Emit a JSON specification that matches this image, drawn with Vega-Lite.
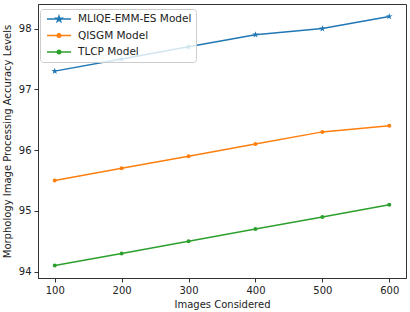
{
  "$schema": "https://vega.github.io/schema/vega-lite/v6.json",
  "width": 368,
  "height": 274,
  "autosize": {"type": "none"},
  "padding": {"left": 38, "top": 4, "right": 4, "bottom": 34},
  "config": {
    "font": "DejaVu Sans",
    "view": {"stroke": "#333", "strokeWidth": 1},
    "axis": {
      "grid": false,
      "labelFontSize": 10,
      "titleFontSize": 10,
      "labelColor": "#222",
      "titleColor": "#222",
      "domainColor": "#333",
      "tickColor": "#333",
      "titleFontWeight": "normal",
      "labelPadding": 3,
      "tickSize": 4
    }
  },
  "data": {
    "values": [
      {"images": 100, "model": "MLIQE-EMM-ES Model", "acc": 97.3},
      {"images": 200, "model": "MLIQE-EMM-ES Model", "acc": 97.5},
      {"images": 300, "model": "MLIQE-EMM-ES Model", "acc": 97.7},
      {"images": 400, "model": "MLIQE-EMM-ES Model", "acc": 97.9},
      {"images": 500, "model": "MLIQE-EMM-ES Model", "acc": 98.0},
      {"images": 600, "model": "MLIQE-EMM-ES Model", "acc": 98.2},
      {"images": 100, "model": "QISGM Model", "acc": 95.5},
      {"images": 200, "model": "QISGM Model", "acc": 95.7},
      {"images": 300, "model": "QISGM Model", "acc": 95.9},
      {"images": 400, "model": "QISGM Model", "acc": 96.1},
      {"images": 500, "model": "QISGM Model", "acc": 96.3},
      {"images": 600, "model": "QISGM Model", "acc": 96.4},
      {"images": 100, "model": "TLCP Model", "acc": 94.1},
      {"images": 200, "model": "TLCP Model", "acc": 94.3},
      {"images": 300, "model": "TLCP Model", "acc": 94.5},
      {"images": 400, "model": "TLCP Model", "acc": 94.7},
      {"images": 500, "model": "TLCP Model", "acc": 94.9},
      {"images": 600, "model": "TLCP Model", "acc": 95.1}
    ]
  },
  "encoding": {
    "x": {
      "field": "images", "type": "quantitative",
      "scale": {"domain": [75, 625], "nice": false, "zero": false},
      "axis": {"values": [100, 200, 300, 400, 500, 600], "title": "Images Considered", "titlePadding": 4}
    },
    "y": {
      "field": "acc", "type": "quantitative",
      "scale": {"domain": [93.895, 98.405], "nice": false, "zero": false},
      "axis": {"values": [94, 95, 96, 97, 98], "title": "Morphology Image Processing Accuracy Levels", "titlePadding": 6}
    },
    "color": {
      "field": "model", "type": "nominal",
      "scale": {"domain": ["MLIQE-EMM-ES Model", "QISGM Model", "TLCP Model"], "range": ["#1f77b4", "#ff7f0e", "#2ca02c"]},
      "legend": {
        "title": null,
        "orient": "none",
        "legendX": 2,
        "legendY": 5,
        "padding": 4,
        "strokeColor": "#ccc",
        "fillColor": "rgba(255,255,255,0.8)",
        "cornerRadius": 3,
        "labelFontSize": 10.5,
        "labelColor": "#222",
        "symbolSize": 100,
        "symbolOffset": 9,
        "labelOffset": 13,
        "rowPadding": 4.5,
        "labelLimit": 300,
        "encode": {
          "symbols": {
            "update": {
              "shape": {"signal": "datum.value === 'MLIQE-EMM-ES Model' ? 'M-2.4,0H2.4M0,-0.55L0.123,-0.169L0.523,-0.17L0.199,0.064L0.323,0.445L0,0.209L-0.323,0.445L-0.199,0.064L-0.523,-0.17L-0.123,-0.169Z' : 'M-2.4,0H2.4M-0.35,0A0.35,0.35 0 1,0 0.35,0A0.35,0.35 0 1,0 -0.35,0Z'"},
              "size": {"value": 100},
              "fill": {"scale": "color", "field": "value"},
              "stroke": {"scale": "color", "field": "value"},
              "strokeWidth": {"value": 1.5},
              "opacity": {"value": 1}
            }
          }
        }
      }
    }
  },
  "layer": [
    {"mark": {"type": "line", "strokeWidth": 1.5}},
    {
      "transform": [{"filter": "datum.model === 'MLIQE-EMM-ES Model'"}],
      "mark": {"type": "point", "filled": true, "opacity": 1, "size": 49, "shape": "M0,-1L0.223,-0.307L0.951,-0.309L0.361,0.117L0.588,0.809L0,0.38L-0.588,0.809L-0.361,0.117L-0.951,-0.309L-0.223,-0.307Z"}
    },
    {
      "transform": [{"filter": "datum.model !== 'MLIQE-EMM-ES Model'"}],
      "mark": {"type": "point", "filled": true, "opacity": 1, "size": 16, "shape": "circle"}
    }
  ]
}
